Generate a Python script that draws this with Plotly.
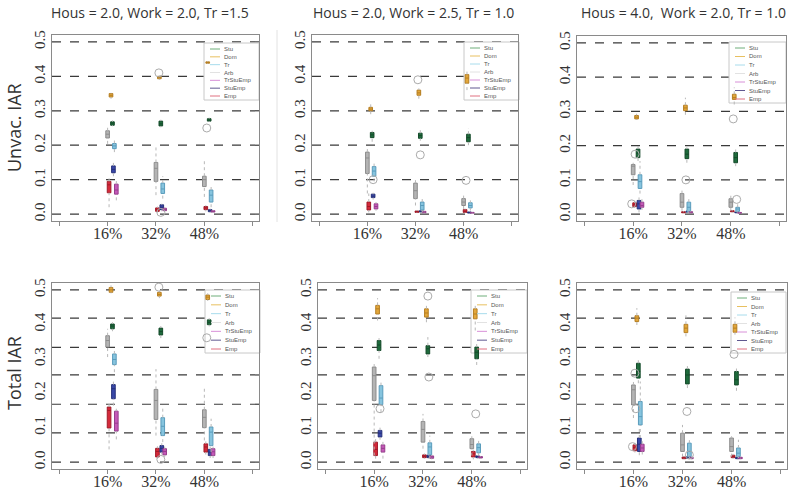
"""
Six panels of box plots: infection attack rate per group, three scenarios x two outcomes
"""

import plotly.graph_objects as go

W, H = 792, 490

CATEGORIES = ["16%", "32%", "48%"]
CAT_POS = [1, 2, 3]
SERIES = ["Stu", "Dom", "Tr", "Arb", "TrStuEmp", "StuEmp", "Emp"]

COL_TITLES = ["Hous = 2.0, Work = 2.0, Tr =1.5",
              "Hous = 2.0, Work = 2.5, Tr = 1.0",
              "Hous = 4.0,  Work = 2.0, Tr = 1.0"]
ROW_TITLES = ["Unvac. IAR", "Total IAR"]

Y_TICKS = [0.0, 0.1, 0.2, 0.3, 0.4, 0.5]
REF_LINES_TOP = [0.0, 0.1, 0.2, 0.3, 0.4, 0.5]
REF_LINES_BOTTOM = [0.0, 0.085, 0.168, 0.253, 0.333, 0.418, 0.5]

# each entry: [lower whisker, q1, median, q3, upper whisker] for 16%, 32%, 48%
unvac_a = {
    "Arb": [[0.204, 0.221, 0.232, 0.242, 0.255], [0.055, 0.095, 0.133, 0.15, 0.2], [0.05, 0.08, 0.1, 0.11, 0.155]],
    "Stu": [[0.255, 0.258, 0.264, 0.268, 0.272], [0.252, 0.256, 0.262, 0.27, 0.274], [0.268, 0.27, 0.273, 0.277, 0.28]],
    "Dom": [[0.335, 0.34, 0.345, 0.35, 0.352], [0.39, 0.393, 0.397, 0.4, 0.403], [0.436, 0.438, 0.44, 0.442, 0.444]],
    "Tr": [[0.18, 0.19, 0.198, 0.205, 0.22], [0.045, 0.06, 0.073, 0.09, 0.11], [0.02, 0.035, 0.055, 0.07, 0.08]],
    "StuEmp": [[0.11, 0.12, 0.13, 0.14, 0.15], [0.008, 0.013, 0.02, 0.027, 0.03], [0.004, 0.007, 0.01, 0.013, 0.016]],
    "Emp": [[0.02, 0.062, 0.085, 0.095, 0.105], [0.004, 0.008, 0.013, 0.018, 0.022], [0.008, 0.013, 0.018, 0.022, 0.026]],
    "TrStuEmp": [[0.04, 0.058, 0.07, 0.087, 0.1], [0.008, 0.01, 0.013, 0.017, 0.02], [0.004, 0.006, 0.008, 0.01, 0.012]],
}
unvac_b = {
    "Arb": [[0.06, 0.118, 0.163, 0.18, 0.19], [0.025, 0.045, 0.068, 0.09, 0.1], [0.015, 0.025, 0.035, 0.045, 0.055]],
    "Stu": [[0.21, 0.222, 0.23, 0.237, 0.242], [0.213, 0.22, 0.228, 0.235, 0.25], [0.2, 0.21, 0.222, 0.232, 0.25]],
    "Dom": [[0.29, 0.3, 0.305, 0.31, 0.325], [0.335, 0.345, 0.352, 0.36, 0.365], [0.36, 0.38, 0.395, 0.405, 0.415]],
    "Tr": [[0.095, 0.11, 0.125, 0.138, 0.15], [0.005, 0.012, 0.025, 0.035, 0.045], [0.01, 0.018, 0.025, 0.033, 0.04]],
    "StuEmp": [[0.042, 0.048, 0.052, 0.058, 0.062], [0.004, 0.006, 0.008, 0.01, 0.012], [0.002, 0.003, 0.005, 0.006, 0.008]],
    "Emp": [[0.005, 0.012, 0.022, 0.035, 0.06], [0.003, 0.005, 0.007, 0.009, 0.012], [0.003, 0.005, 0.008, 0.013, 0.016]],
    "TrStuEmp": [[0.01, 0.015, 0.022, 0.03, 0.035], [0.002, 0.004, 0.006, 0.008, 0.01], [0.002, 0.003, 0.004, 0.005, 0.006]],
}
unvac_c = {
    "Arb": [[0.085, 0.115, 0.14, 0.145, 0.15], [0.01, 0.02, 0.035, 0.06, 0.075], [0.01, 0.02, 0.035, 0.045, 0.055]],
    "Stu": [[0.155, 0.165, 0.178, 0.19, 0.2], [0.15, 0.162, 0.175, 0.19, 0.195], [0.14, 0.15, 0.165, 0.18, 0.19]],
    "Dom": [[0.275, 0.278, 0.283, 0.288, 0.293], [0.29, 0.302, 0.31, 0.318, 0.34], [0.32, 0.335, 0.34, 0.35, 0.37]],
    "Tr": [[0.06, 0.075, 0.095, 0.115, 0.155], [0.003, 0.008, 0.02, 0.035, 0.045], [0.005, 0.008, 0.015, 0.02, 0.03]],
    "StuEmp": [[0.005, 0.015, 0.03, 0.04, 0.055], [0.004, 0.006, 0.007, 0.009, 0.011], [0.002, 0.004, 0.005, 0.006, 0.008]],
    "Emp": [[0.018, 0.022, 0.027, 0.033, 0.038], [0.003, 0.004, 0.005, 0.007, 0.009], [0.005, 0.007, 0.008, 0.01, 0.012]],
    "TrStuEmp": [[0.012, 0.02, 0.025, 0.035, 0.045], [0.003, 0.004, 0.006, 0.007, 0.009], [0.002, 0.003, 0.004, 0.005, 0.007]],
}
total_a = {
    "Arb": [[0.305, 0.334, 0.353, 0.367, 0.387], [0.077, 0.124, 0.179, 0.211, 0.27], [0.063, 0.1, 0.13, 0.152, 0.213]],
    "Stu": [[0.38, 0.387, 0.395, 0.401, 0.406], [0.36, 0.369, 0.379, 0.389, 0.395], [0.394, 0.399, 0.406, 0.413, 0.418]],
    "Dom": [[0.49, 0.493, 0.5, 0.507, 0.513], [0.476, 0.482, 0.487, 0.493, 0.497], [0.468, 0.472, 0.479, 0.485, 0.49]],
    "Tr": [[0.261, 0.283, 0.298, 0.314, 0.329], [0.058, 0.077, 0.104, 0.129, 0.164], [0.029, 0.048, 0.087, 0.102, 0.126]],
    "StuEmp": [[0.164, 0.184, 0.213, 0.225, 0.237], [0.022, 0.029, 0.04, 0.048, 0.055], [0.012, 0.019, 0.029, 0.037, 0.045]],
    "Emp": [[0.037, 0.099, 0.15, 0.16, 0.174], [0.01, 0.015, 0.031, 0.04, 0.046], [0.022, 0.029, 0.044, 0.053, 0.06]],
    "TrStuEmp": [[0.066, 0.09, 0.113, 0.148, 0.155], [0.015, 0.021, 0.031, 0.039, 0.045], [0.012, 0.019, 0.03, 0.039, 0.045]],
}
total_b = {
    "Arb": [[0.019, 0.179, 0.251, 0.276, 0.285], [0.039, 0.058, 0.095, 0.118, 0.14], [0.019, 0.039, 0.051, 0.068, 0.075]],
    "Stu": [[0.3, 0.324, 0.34, 0.353, 0.36], [0.305, 0.314, 0.329, 0.338, 0.363], [0.282, 0.3, 0.319, 0.334, 0.348]],
    "Dom": [[0.411, 0.43, 0.445, 0.455, 0.476], [0.406, 0.421, 0.433, 0.445, 0.46], [0.382, 0.416, 0.43, 0.445, 0.455]],
    "Tr": [[0.145, 0.167, 0.186, 0.222, 0.232], [0.01, 0.021, 0.044, 0.056, 0.077], [0.019, 0.027, 0.042, 0.053, 0.068]],
    "StuEmp": [[0.065, 0.073, 0.084, 0.092, 0.1], [0.01, 0.013, 0.017, 0.02, 0.024], [0.01, 0.013, 0.016, 0.018, 0.021]],
    "Emp": [[0.01, 0.019, 0.037, 0.058, 0.073], [0.01, 0.013, 0.017, 0.021, 0.025], [0.008, 0.015, 0.024, 0.031, 0.036]],
    "TrStuEmp": [[0.01, 0.029, 0.04, 0.05, 0.063], [0.008, 0.011, 0.015, 0.018, 0.021], [0.01, 0.012, 0.014, 0.016, 0.018]],
}
total_c = {
    "Arb": [[0.128, 0.166, 0.21, 0.224, 0.234], [0.016, 0.031, 0.05, 0.084, 0.108], [0.016, 0.031, 0.045, 0.07, 0.075]],
    "Stu": [[0.229, 0.244, 0.263, 0.287, 0.302], [0.215, 0.227, 0.253, 0.27, 0.282], [0.207, 0.224, 0.239, 0.263, 0.278]],
    "Dom": [[0.398, 0.408, 0.418, 0.425, 0.447], [0.365, 0.376, 0.389, 0.4, 0.429], [0.37, 0.377, 0.389, 0.4, 0.42]],
    "Tr": [[0.07, 0.108, 0.132, 0.176, 0.234], [0.01, 0.016, 0.031, 0.055, 0.065], [0.012, 0.016, 0.026, 0.041, 0.065]],
    "StuEmp": [[0.02, 0.031, 0.052, 0.07, 0.1], [0.008, 0.011, 0.013, 0.016, 0.02], [0.008, 0.01, 0.012, 0.014, 0.017]],
    "Emp": [[0.028, 0.033, 0.043, 0.05, 0.056], [0.008, 0.01, 0.012, 0.015, 0.018], [0.01, 0.013, 0.016, 0.02, 0.024]],
    "TrStuEmp": [[0.022, 0.031, 0.041, 0.052, 0.062], [0.008, 0.01, 0.012, 0.014, 0.016], [0.008, 0.01, 0.012, 0.014, 0.016]],
}

# open grey circles (x position, value)
circles_unvac_a = [(2.06, 0.41), (2.1, 0.005), (3.05, 0.25)]
circles_unvac_b = [(1.12, 0.1), (2.05, 0.39), (2.1, 0.172), (3.05, 0.098)]
circles_unvac_c = [(0.97, 0.03), (1.04, 0.175), (2.08, 0.1), (3.05, 0.278), (3.12, 0.043)]
circles_total_a = [(2.06, 0.508), (2.1, 0.008), (3.05, 0.361)]
circles_total_b = [(1.12, 0.155), (2.1, 0.482), (2.12, 0.247), (3.08, 0.14)]
circles_total_c = [(0.98, 0.045), (1.03, 0.258), (1.05, 0.155), (2.09, 0.147), (2.14, 0.021), (3.05, 0.313)]

# styling
DRAW_ORDER = ["Arb", "Emp", "Dom", "Stu", "StuEmp", "Tr", "TrStuEmp"]
OFFSET = {"Arb": 0.0, "Emp": 0.03, "Dom": 0.07, "Stu": 0.1, "StuEmp": 0.12, "Tr": 0.14, "TrStuEmp": 0.18}
BOX_FILL = {"Arb": "#b4b4b4", "Stu": "#1e6b3c", "Dom": "#e3a73a", "Tr": "#86c4de",
            "StuEmp": "#3a48a8", "Emp": "#d42a3a", "TrStuEmp": "#c458b8"}
BOX_LINE = {"Arb": "#8c8c8c", "Stu": "#154a2a", "Dom": "#b57e22", "Tr": "#5a9cbc",
            "StuEmp": "#26307a", "Emp": "#a01a28", "TrStuEmp": "#963e8c"}
LEGEND_LINE = {"Stu": "#6fae7a", "Dom": "#e8c060", "Tr": "#a8dcec", "Arb": "#e2e2e2",
               "TrStuEmp": "#d890d8", "StuEmp": "#605890", "Emp": "#e07080"}

# panel frames in pixels: left, right, top, bottom
PANELS = [
    (unvac_a, circles_unvac_a, (52, 259, 35, 221), REF_LINES_TOP, (204, 259, 43, 100)),
    (unvac_b, circles_unvac_b, (312, 518, 35, 221), REF_LINES_TOP, (464, 519, 42, 100)),
    (unvac_c, circles_unvac_c, (577, 786, 36, 221), REF_LINES_TOP, (729, 786, 42, 103)),
    (total_a, circles_total_a, (52, 259, 283, 469), REF_LINES_BOTTOM, (205, 260, 290, 353)),
    (total_b, circles_total_b, (318, 527, 283, 469), REF_LINES_BOTTOM, (471, 527, 290, 353)),
    (total_c, circles_total_c, (577, 787, 283, 469), REF_LINES_BOTTOM, (731, 786, 292, 353)),
]

FRAME = "#8a8a8a"
TEXT = "#333333"
SERIF = "Liberation Serif, DejaVu Serif, serif"
SANS = "Open Sans, Noto Sans, sans-serif"


def px_x(px):
    return px / W


def px_y(py):
    return 1 - py / H


fig = go.Figure()
shapes = []
annotations = []

for i, (data, circles, frame, ref_lines, leg) in enumerate(PANELS, start=1):
    suffix = "" if i == 1 else str(i)
    xa, ya = "x" + suffix, "y" + suffix
    left, right, top, bottom = frame

    # dotted whiskers first, then the boxes over them
    for name in DRAW_ORDER:
        wx, wy = [], []
        for pos, st in zip(CAT_POS, data[name]):
            x = pos + OFFSET[name]
            wx += [x, x, None, x, x, None]
            wy += [st[0], st[1], None, st[3], st[4], None]
        fig.add_trace(go.Scatter(
            x=wx, y=wy, mode="lines", xaxis=xa, yaxis=ya,
            line=dict(color="#b8b8b8", width=1, dash="dot"),
            showlegend=False, hoverinfo="skip"))
    for name in DRAW_ORDER:
        stats = data[name]
        fig.add_trace(go.Box(
            x=[p + OFFSET[name] for p in CAT_POS],
            q1=[s[1] for s in stats], median=[s[2] for s in stats], q3=[s[3] for s in stats],
            lowerfence=[s[1] for s in stats], upperfence=[s[3] for s in stats],
            width=0.075, whiskerwidth=0, boxpoints=False,
            fillcolor=BOX_FILL[name], line=dict(color=BOX_LINE[name], width=1),
            xaxis=xa, yaxis=ya, name=name, showlegend=False, hoverinfo="skip"))
    fig.add_trace(go.Scatter(
        x=[c[0] for c in circles], y=[c[1] for c in circles], mode="markers",
        marker=dict(symbol="circle-open", size=8, color="#ababab", line=dict(width=1)),
        xaxis=xa, yaxis=ya, showlegend=False, hoverinfo="skip"))

    fig.update_layout({
        "xaxis" + suffix: dict(
            domain=[px_x(left), px_x(right)], anchor=ya, range=[-0.15, 4.13],
            tickvals=[0] + CAT_POS + [4], ticktext=[""] + CATEGORIES + [""],
            ticks="outside", ticklen=4, tickcolor=FRAME, ticklabelstandoff=-6,
            showline=True, mirror=True, linecolor=FRAME, linewidth=1,
            showgrid=False, zeroline=False, automargin=False,
            tickfont=dict(family=SERIF, size=16, color=TEXT)),
        "yaxis" + suffix: dict(
            domain=[px_y(bottom), px_y(top)], anchor=xa, range=[-0.02, 0.52],
            tickvals=Y_TICKS, ticktext=[f"{v:.1f}" for v in Y_TICKS], tickangle=-90,
            ticks="", showline=True, mirror=True, linecolor=FRAME, linewidth=1,
            showgrid=False, zeroline=False, automargin=False,
            tickfont=dict(family=SERIF, size=15, color=TEXT)),
    })

    # dashed reference lines
    for v in ref_lines:
        shapes.append(dict(type="line", xref=f"{xa} domain", yref=ya, x0=0, x1=1, y0=v, y1=v,
                           line=dict(color="#3a3a3a", width=1.2, dash="dash"), layer="below"))

    # legend box drawn by hand (R style, tight rows)
    lx0, lx1, ly0, ly1 = leg
    shapes.append(dict(type="rect", xref="paper", yref="paper",
                       x0=px_x(lx0), x1=px_x(lx1), y0=px_y(ly1), y1=px_y(ly0),
                       fillcolor="white", line=dict(color="#c8c8c8", width=1), layer="below"))
    step = (ly1 - ly0 - 10) / (len(SERIES) - 1)
    for k, name in enumerate(SERIES):
        yy = ly0 + 6 + k * step
        shapes.append(dict(type="line", xref="paper", yref="paper",
                           x0=px_x(lx0 + 6), x1=px_x(lx0 + 16), y0=px_y(yy), y1=px_y(yy),
                           line=dict(color=LEGEND_LINE[name], width=1)))
        annotations.append(dict(x=px_x(lx0 + 18), y=px_y(yy), xref="paper", yref="paper",
                                text=name, showarrow=False, xanchor="left", yanchor="middle",
                                font=dict(family="Liberation Sans, sans-serif", size=6, color="#555555")))

# column and row titles
for title, cx in zip(COL_TITLES, [150, 413, 683]):
    annotations.append(dict(x=px_x(cx), y=px_y(13), xref="paper", yref="paper", text=title,
                            xanchor="center", yanchor="middle", showarrow=False,
                            font=dict(family=SANS, size=14, color=TEXT)))
for title, cy in zip(ROW_TITLES, [128, 373]):
    annotations.append(dict(x=px_x(14), y=px_y(cy), xref="paper", yref="paper", text=title,
                            xanchor="center", yanchor="middle", textangle=-90, showarrow=False,
                            font=dict(family=SANS, size=18, color=TEXT)))

# faint separator between first two columns
shapes.append(dict(type="line", xref="paper", yref="paper", x0=px_x(277), x1=px_x(277),
                   y0=px_y(222), y1=px_y(30), line=dict(color="#e2e2e2", width=1)))

fig.update_layout(
    width=W, height=H, margin=dict(l=0, r=0, t=0, b=0, autoexpand=False),
    paper_bgcolor="white", plot_bgcolor="white", boxmode="overlay",
    showlegend=False, shapes=shapes, annotations=annotations,
)

# drop the browser's default page margin so the figure fills the window
fig.write_html("out.html", config={"displayModeBar": False},
               post_script="document.body.style.margin = '0px';")
